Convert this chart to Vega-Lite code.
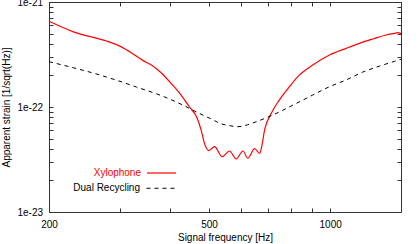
{
  "$schema": "https://vega.github.io/schema/vega-lite/v6.json",
  "width": 352,
  "height": 210,
  "autosize": {"type": "none"},
  "padding": {"left": 49, "top": 2, "right": 18, "bottom": 32},
  "background": "white",
  "config": {
    "font": "Liberation Sans",
    "view": {"stroke": "#333", "strokeWidth": 1},
    "axis": {
      "grid": false,
      "domain": false,
      "tickColor": "#333",
      "tickSize": -4,
      "labelFont": "Liberation Sans",
      "labelFontSize": 10,
      "labelColor": "#000",
      "titleFont": "Liberation Sans",
      "titleFontSize": 10,
      "titleFontWeight": "normal",
      "titleColor": "#000",
      "labelFlush": false,
      "labelOverlap": false
    },
    "legend": {
      "labelFont": "Liberation Sans",
      "labelFontSize": 10,
      "padding": 0
    }
  },
  "datasets": {
    "xylo": [
      {"series": "Xylophone", "f": 200, "h": 6.55e-22},
      {"series": "Xylophone", "f": 230, "h": 5.2e-22},
      {"series": "Xylophone", "f": 278, "h": 4.25e-22},
      {"series": "Xylophone", "f": 300, "h": 3.8e-22},
      {"series": "Xylophone", "f": 323, "h": 3.22e-22},
      {"series": "Xylophone", "f": 342, "h": 2.78e-22},
      {"series": "Xylophone", "f": 363, "h": 2.45e-22},
      {"series": "Xylophone", "f": 377, "h": 2.18e-22},
      {"series": "Xylophone", "f": 399, "h": 1.74e-22},
      {"series": "Xylophone", "f": 422, "h": 1.36e-22},
      {"series": "Xylophone", "f": 447, "h": 1.0e-22},
      {"series": "Xylophone", "f": 465, "h": 8.1e-23},
      {"series": "Xylophone", "f": 478, "h": 6.0e-23},
      {"series": "Xylophone", "f": 487, "h": 4.5e-23},
      {"series": "Xylophone", "f": 499, "h": 3.85e-23},
      {"series": "Xylophone", "f": 516, "h": 4.19e-23},
      {"series": "Xylophone", "f": 539, "h": 3.36e-23},
      {"series": "Xylophone", "f": 562, "h": 3.81e-23},
      {"series": "Xylophone", "f": 584, "h": 3.2e-23},
      {"series": "Xylophone", "f": 607, "h": 3.81e-23},
      {"series": "Xylophone", "f": 624, "h": 3.25e-23},
      {"series": "Xylophone", "f": 649, "h": 4.01e-23},
      {"series": "Xylophone", "f": 668, "h": 3.62e-23},
      {"series": "Xylophone", "f": 677, "h": 4.35e-23},
      {"series": "Xylophone", "f": 687, "h": 6.04e-23},
      {"series": "Xylophone", "f": 714, "h": 8.71e-23},
      {"series": "Xylophone", "f": 748, "h": 1.17e-22},
      {"series": "Xylophone", "f": 792, "h": 1.56e-22},
      {"series": "Xylophone", "f": 839, "h": 2.02e-22},
      {"series": "Xylophone", "f": 905, "h": 2.51e-22},
      {"series": "Xylophone", "f": 996, "h": 3.13e-22},
      {"series": "Xylophone", "f": 1096, "h": 3.62e-22},
      {"series": "Xylophone", "f": 1183, "h": 4.04e-22},
      {"series": "Xylophone", "f": 1276, "h": 4.44e-22},
      {"series": "Xylophone", "f": 1377, "h": 4.85e-22},
      {"series": "Xylophone", "f": 1444, "h": 5.03e-22},
      {"series": "Xylophone", "f": 1472, "h": 5.1e-22},
      {"series": "Xylophone", "f": 1500, "h": 5.0e-22}
    ],
    "dual": [
      {"series": "Dual Recycling", "f": 200, "h": 2.7e-22},
      {"series": "Dual Recycling", "f": 278, "h": 1.93e-22},
      {"series": "Dual Recycling", "f": 330, "h": 1.55e-22},
      {"series": "Dual Recycling", "f": 391, "h": 1.23e-22},
      {"series": "Dual Recycling", "f": 430, "h": 1.045e-22},
      {"series": "Dual Recycling", "f": 469, "h": 8.83e-23},
      {"series": "Dual Recycling", "f": 516, "h": 7.41e-23},
      {"series": "Dual Recycling", "f": 531, "h": 7.0e-23},
      {"series": "Dual Recycling", "f": 559, "h": 6.67e-23},
      {"series": "Dual Recycling", "f": 590, "h": 6.49e-23},
      {"series": "Dual Recycling", "f": 623, "h": 6.77e-23},
      {"series": "Dual Recycling", "f": 655, "h": 7.24e-23},
      {"series": "Dual Recycling", "f": 720, "h": 8.39e-23},
      {"series": "Dual Recycling", "f": 823, "h": 1.08e-22},
      {"series": "Dual Recycling", "f": 905, "h": 1.3e-22},
      {"series": "Dual Recycling", "f": 996, "h": 1.56e-22},
      {"series": "Dual Recycling", "f": 1096, "h": 1.81e-22},
      {"series": "Dual Recycling", "f": 1205, "h": 2.15e-22},
      {"series": "Dual Recycling", "f": 1326, "h": 2.45e-22},
      {"series": "Dual Recycling", "f": 1444, "h": 2.72e-22},
      {"series": "Dual Recycling", "f": 1500, "h": 2.85e-22}
    ]
  },
  "resolve": {"axis": {"x": "independent", "y": "independent"}},
  "layer": [
    {
      "data": {"name": "xylo"},
      "mark": {"type": "line", "interpolate": "monotone", "strokeWidth": 1.2},
      "encoding": {
        "x": {
          "field": "f", "type": "quantitative",
          "scale": {"type": "log", "domain": [200, 1500], "nice": false},
          "axis": {
            "orient": "bottom",
            "values": [200, 300, 400, 500, 600, 700, 800, 900, 1000],
            "format": "d",
            "labelExpr": "indexof([200, 500, 1000], datum.value) >= 0 ? datum.label : ''",
            "labelPadding": 11,
            "title": "Signal frequency [Hz]",
            "titlePadding": 3
          }
        },
        "y": {
          "field": "h", "type": "quantitative",
          "scale": {"type": "log", "domain": [1e-23, 1e-21], "nice": false},
          "axis": {
            "orient": "left",
            "values": [1e-23, 2e-23, 3e-23, 4e-23, 5e-23, 6e-23, 7e-23, 8e-23, 9e-23, 1e-22, 2e-22, 3e-22, 4e-22, 5e-22, 6e-22, 7e-22, 8e-22, 9e-22, 1e-21],
            "labelExpr": "datum.value == 1e-23 ? '1e-23' : datum.value == 1e-22 ? '1e-22' : datum.value == 1e-21 ? '1e-21' : ''",
            "labelPadding": 10.5,
            "title": "Apparent strain [1/sqrt(Hz)]",
            "titlePadding": 5
          }
        },
        "color": {
          "field": "series", "type": "nominal",
          "scale": {"domain": ["Xylophone"], "range": ["#ff0000"]},
          "legend": {
            "title": null,
            "orient": "none",
            "legendX": 97,
            "legendY": 155.5,
            "symbolType": "stroke",
            "symbolSize": 841,
            "symbolStrokeWidth": 1.2,
            "labelAlign": "right",
            "labelOffset": -36,
            "labelColor": "#ff0000"
          }
        }
      }
    },
    {
      "data": {"name": "dual"},
      "mark": {"type": "line", "interpolate": "monotone", "strokeWidth": 1, "color": "#000"},
      "encoding": {
        "x": {
          "field": "f", "type": "quantitative",
          "axis": {
            "orient": "top",
            "values": [200, 300, 400, 500, 600, 700, 800, 900, 1000],
            "labels": false,
            "title": null
          }
        },
        "y": {
          "field": "h", "type": "quantitative",
          "axis": {
            "orient": "right",
            "values": [1e-23, 2e-23, 3e-23, 4e-23, 5e-23, 6e-23, 7e-23, 8e-23, 9e-23, 1e-22, 2e-22, 3e-22, 4e-22, 5e-22, 6e-22, 7e-22, 8e-22, 9e-22, 1e-21],
            "labels": false,
            "title": null
          }
        },
        "strokeDash": {
          "field": "series", "type": "nominal",
          "scale": {"domain": ["Dual Recycling"], "range": [[4, 4]]},
          "legend": {
            "title": null,
            "orient": "none",
            "legendX": 97,
            "legendY": 171.3,
            "symbolType": "stroke",
            "symbolSize": 841,
            "symbolStrokeWidth": 1,
            "symbolStrokeColor": "#000",
            "labelAlign": "right",
            "labelOffset": -36,
            "labelColor": "#000"
          }
        }
      }
    }
  ]
}
